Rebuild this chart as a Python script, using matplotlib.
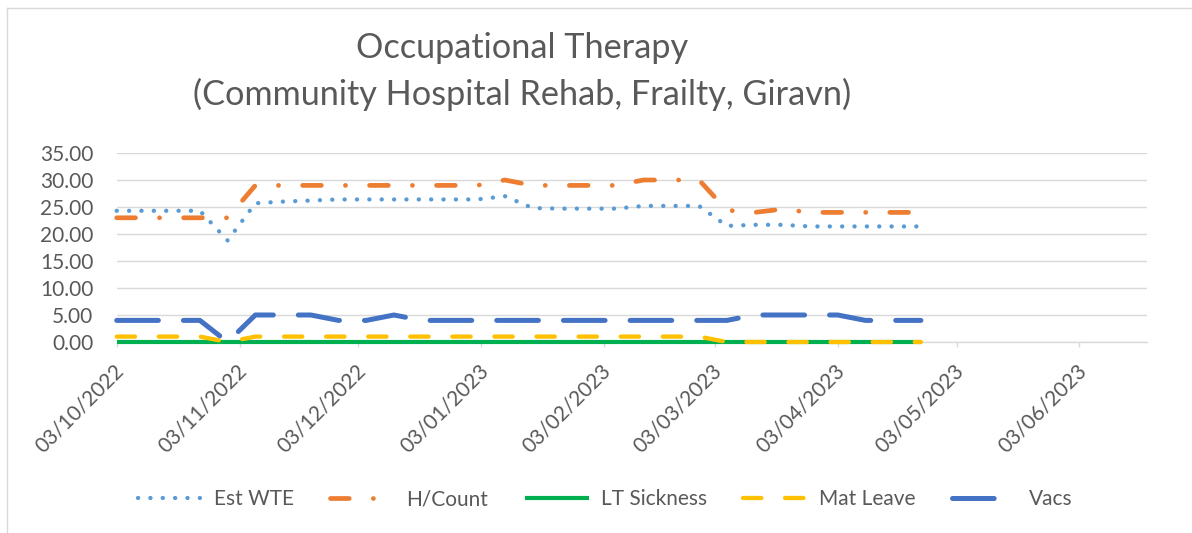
import matplotlib
matplotlib.use("Agg")
import matplotlib.pyplot as plt
import matplotlib.dates as mdates
from matplotlib.transforms import ScaledTranslation
from matplotlib.lines import Line2D
import pandas as pd

plt.rcParams['font.family'] = ['Lato', 'DejaVu Sans']
plt.rcParams['lines.scale_dashes'] = False

dates = ["2022-10-03", "2022-10-10", "2022-10-17", "2022-10-24", "2022-10-31",
         "2022-11-07", "2022-11-14", "2022-11-21", "2022-11-28", "2022-12-05",
         "2022-12-12", "2022-12-19", "2022-12-26", "2023-01-02", "2023-01-09",
         "2023-01-16", "2023-01-23", "2023-01-30", "2023-02-06", "2023-02-13",
         "2023-02-20", "2023-02-27", "2023-03-06", "2023-03-13", "2023-03-20",
         "2023-03-27", "2023-04-03", "2023-04-10", "2023-04-17", "2023-04-24"]
est_wte = [24.3, 24.3, 24.3, 24.3, 18.8, 25.7, 26.0, 26.2, 26.4, 26.4,
           26.4, 26.4, 26.4, 26.4, 27.0, 24.8, 24.7, 24.7, 24.7, 25.2,
           25.2, 25.2, 21.5, 21.7, 21.7, 21.4, 21.4, 21.4, 21.4, 21.4]
h_count = [23, 23, 23, 23, 23, 29, 29, 29, 29, 29,
           29, 29, 29, 29, 30, 29, 29, 29, 29, 30,
           30, 30, 24.4, 24, 24.6, 24, 24, 24, 24, 24]
lt_sickness = [0, 0, 0, 0, 0, 0, 0, 0, 0, 0,
               0, 0, 0, 0, 0, 0, 0, 0, 0, 0,
               0, 0, 0, 0, 0, 0, 0, 0, 0, 0]
mat_leave = [1, 1, 1, 1, 0, 1, 1, 1, 1, 1,
             1, 1, 1, 1, 1, 1, 1, 1, 1, 1,
             1, 1, 0, 0, 0, 0, 0, 0, 0, 0]
vacs = [4, 4, 4, 4, 0, 5, 5, 5, 4, 4,
        5, 4, 4, 4, 4, 4, 4, 4, 4, 4,
        4, 4, 4, 5, 5, 5, 5, 4, 4, 4]
series_names = ["Est WTE", "H/Count", "LT Sickness", "Mat Leave", "Vacs"]
tick_dates = ["2022-10-03", "2022-11-03", "2022-12-03", "2023-01-03", "2023-02-03",
              "2023-03-03", "2023-04-03", "2023-05-03", "2023-06-03"]
y_ticks = [0, 5, 10, 15, 20, 25, 30, 35]
title_lines = ["Occupational Therapy", "(Community Hospital Rehab, Frailty, Giravn)"]

x = pd.to_datetime(dates)
W, H = 1192, 533
fig = plt.figure(figsize=(W / 100, H / 100), dpi=100)
ax = fig.add_axes([116.7 / W, 1 - 342 / H, (1146.7 - 116.7) / W, (342 - 153) / H])

styles = [
    dict(color="#5B9BD5", lw=3.1, ls=(0, (0.1, 8.8)), dash_capstyle="round"),
    dict(color="#ED7D31", lw=3.4, ls=(0, (13.5, 17.3, 0.1, 17.3)), dash_capstyle="round"),
    dict(color="#00B050", lw=3.0, ls="-", solid_capstyle="butt"),
    dict(color="#FFC000", lw=3.1, ls=(0, (13.2, 17.1)), dash_capstyle="round"),
    dict(color="#4472C4", lw=3.6, ls=(0, (30, 18)), dash_capstyle="round"),
]
data = [est_wte, h_count, lt_sickness, mat_leave, vacs]
handles = []
for name, vals, st in zip(series_names, data, styles):
    ln, = ax.plot(x, vals, label=name, solid_joinstyle="round", dash_joinstyle="round",
                  clip_on=False, **st)
    handles.append(ln)

x0 = pd.Timestamp("2022-10-03")
ax.set_xlim(x0, x0 + pd.Timedelta(days=260))
ax.set_ylim(0, 35)
ax.set_yticks(y_ticks)
ax.set_yticklabels([f"{v:.2f}" for v in y_ticks])
ax.grid(axis="y", color="#D9D9D9", lw=1)
ax.set_axisbelow(True)
for s in ["top", "right", "left"]:
    ax.spines[s].set_visible(False)
ax.spines["bottom"].set_color("#D9D9D9")
ax.spines["bottom"].set_linewidth(1)
ax.spines["bottom"].set_zorder(0.5)
ax.tick_params(axis="y", length=0, pad=16.8, labelsize=15, labelcolor="#595959")
tick_x = pd.to_datetime(tick_dates)
ax.set_xticks(tick_x)
ax.tick_params(axis="x", length=3.6, width=1, color="#D9D9D9", labelbottom=False)

lab_tr = ax.get_xaxis_transform() + ScaledTranslation(4 / 100, -26 / 100, fig.dpi_scale_trans)
for d in tick_x:
    ax.text(mdates.date2num(d), 0, d.strftime("%d/%m/%Y"), transform=lab_tr,
            rotation=45, rotation_mode="anchor", ha="right", va="center",
            fontsize=15, color="#595959")

fig.text(522 / W, 1 - 48 / H, title_lines[0], ha="center", va="center", fontsize=24.7,
         color="#595959")
fig.text(522 / W, 1 - 94 / H, title_lines[1], ha="center", va="center", fontsize=24.7,
         color="#595959")

fig.legend(handles=handles, loc="center", bbox_to_anchor=(605 / W, 1 - 499 / H), ncol=5,
           frameon=False, fontsize=15, labelcolor="#595959", handlelength=3.1,
           handletextpad=0.55, columnspacing=1.75)

fig.add_artist(Line2D([7 / W, 1], [1 - 8 / H, 1 - 8 / H], color="#D9D9D9", lw=1, transform=fig.transFigure))
fig.add_artist(Line2D([7 / W, 7 / W], [1 - 8 / H, 0], color="#D9D9D9", lw=1, transform=fig.transFigure))

fig.savefig("out.png", dpi=100, facecolor="white")
